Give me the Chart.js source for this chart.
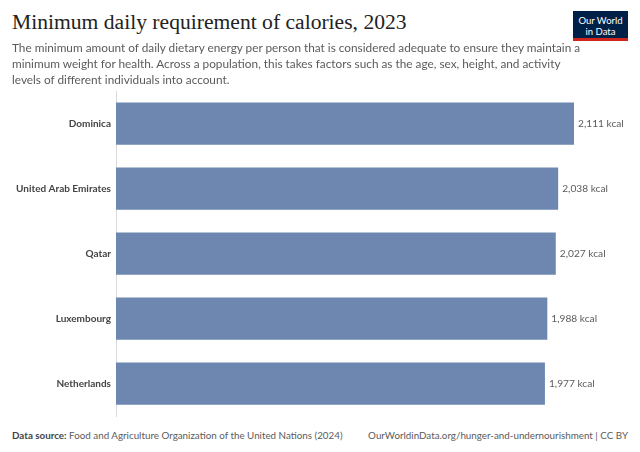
<!DOCTYPE html>
<html>
<head>
<meta charset="utf-8">
<script src="https://cdn.jsdelivr.net/npm/chart.js@4.4.1/dist/chart.umd.min.js"></script>
<style>
  html, body { margin: 0; padding: 0; background: #fff; }
  body { width: 640px; height: 452px; position: relative; overflow: hidden; font-family: Lato, sans-serif; }
  .titel { position: absolute; left: 12px; top: 10px; font-family: "Liberation Serif", serif; font-size: 21.6px; color: #222; }
  .sub { position: absolute; left: 12px; top: 40px; width: 570px; font-size: 11.8px; line-height: 16px; color: #5b5b5b; }
  .logo { position: absolute; left: 573px; top: 11px; width: 55px; height: 30px; background: #002147; color: #fff; font-size: 9.5px; line-height: 11px; text-align: center; box-sizing: border-box; padding-top: 4px; border-bottom: 3px solid #ce261e; }
  .wrap { position: absolute; left: 0; top: 80px; width: 640px; height: 347px; }
  .wrap canvas { display: block; }
  .voet { position: absolute; left: 12px; top: 429px; width: 616px; font-size: 9.8px; color: #5b5b5b; }
  .voet b { color: #444; }
  .voet .r { position: absolute; right: 0; top: 0; }
</style>
</head>
<body>
<div class="wrap"><canvas id="kcalChart"></canvas></div>
<div class="titel">Minimum daily requirement of calories, 2023</div>
<div class="sub">The minimum amount of daily dietary energy per person that is considered adequate to ensure they maintain a minimum weight for health. Across a population, this takes factors such as the age, sex, height, and activity levels of different individuals into account.</div>
<div class="logo">Our World<br>in Data</div>
<div class="voet"><b>Data source:</b> Food and Agriculture Organization of the United Nations (2024)<span class="r">OurWorldinData.org/hunger-and-undernourishment | CC BY</span></div>

<script>
/* landen en waarden (kcal per persoon per dag) */
const landen = ['Dominica', 'United Arab Emirates', 'Qatar', 'Luxembourg', 'Netherlands'];
const waarden = [2111, 2038, 2027, 1988, 1977];
const eenheid = 'kcal';

const BALK = '#6d87b0';

/* waardelabels rechts van de balken */
const waardeLabels = {
  id: 'waardeLabels',
  afterDatasetsDraw(chart) {
    const ctx = chart.ctx;
    const meta = chart.getDatasetMeta(0);
    ctx.save();
    ctx.font = '10.2px Lato';
    ctx.fillStyle = '#5b5b5b';
    ctx.textAlign = 'left';
    ctx.textBaseline = 'middle';
    meta.data.forEach((bar, i) => {
      ctx.fillText(waarden[i].toLocaleString('en-US') + ' ' + eenheid, bar.x + 4, bar.y);
    });
    ctx.restore();
  }
};

new Chart(document.getElementById('kcalChart'), {
  type: 'bar',
  data: {
    labels: landen,
    datasets: [{
      data: waarden,
      backgroundColor: BALK,
      borderWidth: 0,
      barPercentage: 0.65,
      categoryPercentage: 1
    }]
  },
  options: {
    indexAxis: 'y',
    responsive: true,
    maintainAspectRatio: false,
    animation: false,
    layout: { padding: { top: 4, bottom: 3, right: 66, left: 0 } },
    plugins: { legend: { display: false }, tooltip: { enabled: false } },
    scales: {
      x: {
        display: false,
        min: 0,
        max: 2111
      },
      y: {
        afterFit(scale) { scale.width = 116; },
        grid: { display: false, drawTicks: false },
        border: { display: true, color: '#d9d9d9', width: 1 },
        ticks: {
          padding: 5,
          color: '#444',
          font: { family: 'Lato', size: 10, weight: 'bold' }
        }
      }
    }
  },
  plugins: [waardeLabels]
});
</script>
</body>
</html>
